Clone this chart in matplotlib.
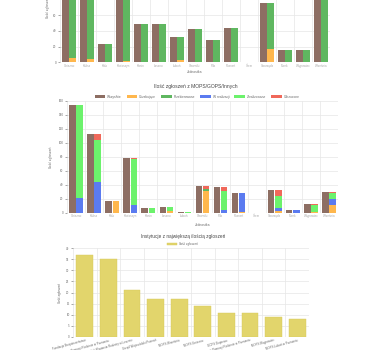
import matplotlib.pyplot as plt
import numpy as np

plt.rcParams['font.family'] = ['Liberation Sans', 'DejaVu Sans']

# jednostki (te same w obu górnych wykresach)
units = ['Gniezno', 'Kalisz', 'Koło', 'Krotoszyn', 'Konin', 'Leszno', 'Luboń',
         'Oborniki', 'Piła', 'Poznań', 'Śrem', 'Swarzędz', 'Turek', 'Wągrowiec',
         'Września']

# wykres 1 (ucięty u góry)
top_all = [120, 112, 23, 130, 48, 48, 32, 42, 28, 44, 0, 75, 15, 16, 104]
top_pending = [6, 4, 1, 2, 0, 0, 3, 1, 0, 1, 0, 17, 0, 0, 0]
top_redirected = [114, 108, 22, 128, 48, 48, 29, 41, 28, 43, 0, 58, 15, 16, 104]

# wykres 2 - MOPS/GOPS/Inne
mops_all = [154, 113, 17, 79, 7, 9, 2, 38, 37, 29, 0, 33, 4, 13, 30]
mops_pending = [0, 0, 17, 0, 0, 3, 0, 32, 0, 2, 0, 3, 0, 2, 12]
mops_redirected = [0, 0, 0, 0, 0, 0, 0, 3, 0, 0, 0, 0, 0, 0, 0]
mops_in_progress = [21, 44, 0, 11, 0, 0, 0, 0, 4, 27, 0, 4, 4, 0, 8]
mops_done = [133, 60, 0, 66, 7, 6, 2, 0, 28, 0, 0, 17, 0, 9, 8]
mops_rejected = [0, 9, 0, 2, 0, 0, 0, 3, 5, 0, 0, 9, 0, 2, 2]

# wykres 3 - instytucje
institutions = ['Fundacja Bezpieczeństwo',
                'Centrum Pomocy Rodzinie w Poznaniu',
                'Ośrodek Wsparcia Rodziny w Lesznie',
                'Urząd Wojewódzki Poznań',
                'MOPS Września',
                'MOPS Gniezno',
                'GOPS Dopiewo',
                'Powiatowe Centrum Pomocy Rodzinie w Poznaniu',
                'MOPS Wągrowiec',
                'MOPS Luboń w Poznaniu']
inst_counts = [37, 35, 21, 17, 17, 14, 11, 11, 9, 8]

C_ALL = '#8d6e63'
C_PEND = '#ffb74d'
C_REDIR = '#5fb760'
C_PROG = '#5b7bf0'
C_DONE = '#6cf26c'
C_REJ = '#f0685a'
C_YEL = '#e2d56c'
GRID = '#e6e6e6'
TXT = '#666666'

fig = plt.figure(figsize=(3.9, 3.5), dpi=100)
W, H = 390.0, 350.0


def axes_px(left, right, top, bottom):
    return fig.add_axes([left / W, 1 - bottom / H, (right - left) / W, (bottom - top) / H])


def style(ax, n, ymax, step, fs=2.2):
    ax.set_xlim(-0.5, n - 0.5)
    ax.set_ylim(0, ymax)
    ax.set_yticks(np.arange(0, ymax + 1, step))
    ax.set_xticks(np.arange(n) - 0.5, minor=True)
    ax.grid(True, axis='y', color=GRID, lw=0.5)
    ax.grid(True, axis='x', which='minor', color=GRID, lw=0.5)
    ax.set_axisbelow(True)
    for s in ax.spines.values():
        s.set_visible(False)
    ax.tick_params(axis='both', labelsize=fs, colors=TXT, length=1.5, width=0.4, pad=1)
    ax.tick_params(axis='x', which='minor', length=0)
    ax.tick_params(axis='x', which='major', length=0)


x = np.arange(len(units))
bw = 0.36

# --- wykres 1 ---
ax1 = axes_px(60, 330, -48, 62.3)
ax1.bar(x - 0.2, top_all, bw, color=C_ALL)
ax1.bar(x + 0.2, top_pending, bw, color=C_PEND)
ax1.bar(x + 0.2, top_redirected, bw, bottom=top_pending, color=C_REDIR)
style(ax1, len(units), 140, 20)
# górna część wykresu jest poza obrazkiem - podpisy tylko dla widocznych linii
ax1.set_yticks(np.arange(0, 61, 20))
for yv in range(80, 141, 20):
    ax1.axhline(yv, color=GRID, lw=0.5, zorder=0)
ax1.set_xticks(x)
ax1.set_xticklabels(units, color='#aaaaaa')
ax1.set_ylabel('Ilość zgłoszeń', fontsize=2.4, color=TXT, labelpad=2)
ax1.set_xlabel('Jednostka', fontsize=2.4, color=TXT, labelpad=2)

# --- wykres 2 ---
ax2 = axes_px(67, 338, 101, 213)
ax2.bar(x - 0.2, mops_all, bw, color=C_ALL, label='Wszystkie')
base = np.zeros(len(units))
for vals, col, lab in [(mops_pending, C_PEND, 'Oczekujące'),
                       (mops_redirected, C_REDIR, 'Przekierowane'),
                       (mops_in_progress, C_PROG, 'W realizacji'),
                       (mops_done, C_DONE, 'Zrealizowane'),
                       (mops_rejected, C_REJ, 'Odrzucone')]:
    ax2.bar(x + 0.2, vals, bw, bottom=base, color=col, label=lab)
    base += np.array(vals)
style(ax2, len(units), 160, 20)
ax2.set_xticks(x)
ax2.set_xticklabels(units, color='#aaaaaa')
ax2.set_ylabel('Ilość zgłoszeń', fontsize=2.4, color=TXT, labelpad=4)
ax2.set_xlabel('Jednostka', fontsize=2.4, color=TXT, labelpad=3)
ax2.legend(loc='center', bbox_to_anchor=(0.48, 1.04), ncol=6, fontsize=2.3,
           frameon=False, handlelength=3.3, handleheight=0.9, columnspacing=1.6,
           handletextpad=0.6, labelcolor=TXT)
fig.text(196 / W, 1 - 86.7 / H, 'Ilość zgłoszeń z MOPS/GOPS/Innych',
         ha='center', va='center', fontsize=3.6, color='#444444')

# --- wykres 3 ---
xi = np.arange(len(institutions))
ax3 = axes_px(73, 309, 248, 337)
ax3.bar(xi, inst_counts, 0.72, color=C_YEL, edgecolor='#d8c95a', lw=0.3,
        label='Ilość zgłoszeń')
style(ax3, len(institutions), 40, 5, fs=2.1)
ax3.set_xticks(xi)
ax3.set_xticklabels(institutions, rotation=15, ha='right', rotation_mode='anchor',
                    color=TXT)
ax3.set_ylabel('Ilość zgłoszeń', fontsize=2.3, color=TXT, labelpad=3)
ax3.legend(loc='center', bbox_to_anchor=(0.462, 1.045), fontsize=2.2, frameon=False,
           handlelength=3.3, handleheight=0.9, handletextpad=0.6, labelcolor=TXT)
fig.text(183 / W, 1 - 236.5 / H, 'Instytucje z największą ilością zgłoszeń',
         ha='center', va='center', fontsize=3.4, color='#444444')

fig.savefig('out.png', dpi=100)
